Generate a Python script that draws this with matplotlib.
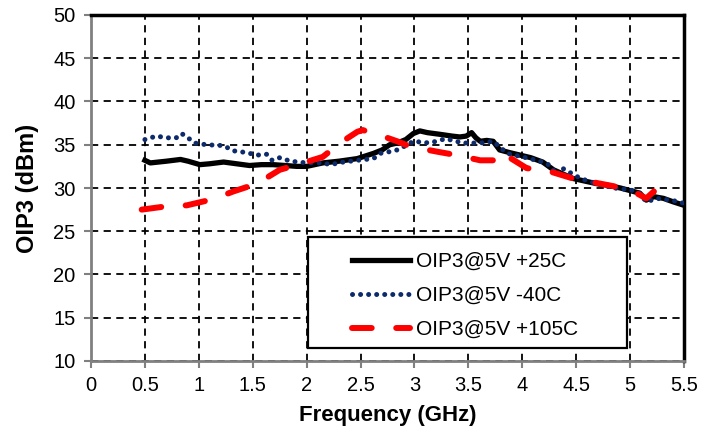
import matplotlib
matplotlib.use("Agg")
import matplotlib.pyplot as plt
from matplotlib.patches import Rectangle

# +25C (black solid)
freq_25 = [0.50, 0.55, 0.70, 0.83, 0.90, 1.01, 1.10, 1.23, 1.35, 1.47, 1.58, 1.69, 1.80, 1.91, 2.00,
           2.15, 2.30, 2.47, 2.62, 2.70, 2.77, 2.84, 2.92, 2.99, 3.05, 3.12, 3.24, 3.35, 3.42, 3.48,
           3.53, 3.57, 3.61, 3.67, 3.73, 3.79, 3.88, 3.98, 4.08, 4.19, 4.29, 4.38, 4.47, 4.58,
           4.69, 4.80, 4.91, 5.00, 5.09, 5.15, 5.22, 5.31, 5.40, 5.50]
oip3_25 = [33.2, 32.9, 33.1, 33.3, 33.1, 32.7, 32.8, 33.0, 32.8, 32.6, 32.7, 32.7, 32.6, 32.5, 32.5,
           32.9, 33.1, 33.4, 34.0, 34.4, 35.0, 35.2, 35.6, 36.3, 36.6, 36.4, 36.2, 36.0, 35.9, 36.0,
           36.4, 35.8, 35.4, 35.5, 35.4, 34.4, 34.1, 33.8, 33.5, 33.0, 32.1, 31.6, 31.1, 30.8,
           30.5, 30.3, 30.0, 29.7, 29.4, 28.6, 29.0, 28.8, 28.4, 28.0]

# -40C (blue dotted)
freq_m40 = [0.50, 0.55, 0.61, 0.70, 0.79, 0.84, 0.90, 0.96, 1.07, 1.23, 1.32, 1.44, 1.54, 1.63,
            1.68, 1.75, 1.85, 2.00, 2.15, 2.22, 2.34, 2.47, 2.62, 2.68, 2.77, 2.84, 2.92, 2.99,
            3.14, 3.29, 3.45, 3.61, 3.73, 3.86, 4.07, 4.19, 4.26, 4.32, 4.37, 4.54, 4.69, 4.85,
            5.00, 5.09, 5.15, 5.25, 5.37, 5.46, 5.50]
oip3_m40 = [35.6, 35.8, 36.0, 35.8, 35.8, 36.3, 35.8, 35.2, 35.0, 34.9, 34.3, 34.1, 33.8, 33.9,
            33.2, 33.5, 33.1, 32.9, 32.9, 32.7, 33.0, 33.2, 33.4, 34.0, 34.2, 34.4, 34.9, 35.4,
            35.2, 35.7, 35.2, 35.2, 35.4, 34.0, 33.4, 33.0, 32.6, 31.5, 32.3, 31.1, 30.5, 30.0,
            29.8, 29.4, 28.4, 28.8, 28.6, 28.4, 28.2]

# +105C (red dashed)
freq_105 = [0.47, 0.65, 0.89, 1.13, 1.32, 1.54, 1.75, 1.97, 2.15, 2.31, 2.47, 2.52, 2.68, 2.84,
            2.96, 3.21, 3.39, 3.61, 3.79, 3.82, 4.04, 4.26, 4.47, 4.60, 4.85, 5.03, 5.15, 5.22, 5.31]
oip3_105 = [27.5, 27.8, 28.0, 28.7, 29.6, 30.5, 32.1, 32.9, 33.6, 35.2, 36.5, 36.7, 36.1, 35.4,
            34.8, 34.2, 33.8, 33.2, 33.2, 34.0, 32.3, 31.9, 31.1, 30.8, 30.2, 29.6, 28.8, 29.6, 28.8]

labels = ["OIP3@5V +25C", "OIP3@5V -40C", "OIP3@5V +105C"]
x_ticks = [0, 0.5, 1, 1.5, 2, 2.5, 3, 3.5, 4, 4.5, 5, 5.5]
x_ticklabels = ["0", "0.5", "1", "1.5", "2", "2.5", "3", "3.5", "4", "4.5", "5", "5.5"]
y_ticks = [10, 15, 20, 25, 30, 35, 40, 45, 50]

plt.rcParams['font.family'] = ['Liberation Sans', 'DejaVu Sans']

W, H = 713, 436
fig = plt.figure(figsize=(W / 100, H / 100), dpi=100)
ax = fig.add_axes([91 / W, 1 - 361 / H, (684 - 91) / W, (361 - 15) / H])

ax.plot(freq_25, oip3_25, color='black', lw=3.8, solid_joinstyle='round', label=labels[0], zorder=3)
ax.plot(freq_m40, oip3_m40, color='#0d2a6b', lw=3.6, linestyle=(0, (0.01, 1.6)),
        dash_capstyle='round', label=labels[1], zorder=4)
ax.plot(freq_105, oip3_105, color='#ff0000', lw=4.3, linestyle=(0, (3.3, 4.1)),
        dash_capstyle='round', label=labels[2], zorder=5)

ax.set_xlim(0, 5.5)
ax.set_ylim(10, 50)
ax.set_xticks(x_ticks)
ax.set_xticklabels(x_ticklabels)
ax.set_yticks(y_ticks)
ax.tick_params(axis='both', labelsize=14.5, direction='out', length=5, width=1.5,
               color='#808080', pad=6)
ax.grid(True, color='black', linestyle=(0, (4, 3)), lw=1.3)
ax.set_axisbelow(True)

for s in ['left', 'bottom']:
    ax.spines[s].set_color('#808080')
    ax.spines[s].set_linewidth(2.0)
for s in ['top', 'right']:
    ax.spines[s].set_color('black')
    ax.spines[s].set_linewidth(2.5)

ax.set_xlabel("Frequency (GHz)", fontsize=16, fontweight='bold', labelpad=7)
ax.set_ylabel("OIP3 (dBm)", fontsize=17, fontweight='bold', labelpad=10)

# legend box
box = Rectangle((308 / W, 1 - 348 / H), (627 - 308) / W, (348 - 237) / H,
                transform=fig.transFigure, facecolor='white', edgecolor='black',
                lw=1.6, zorder=6)
fig.patches.append(box)

handles, lbls = ax.get_legend_handles_labels()
leg = fig.legend(handles, lbls, loc='upper left', bbox_to_anchor=(352 / W, 1 - 252 / H),
                 bbox_transform=fig.transFigure,
                 fontsize=15, frameon=False, handlelength=2.8,
                 borderpad=0, labelspacing=0.72, handletextpad=0.25, borderaxespad=0)
leg.set_zorder(7)

fig.savefig("out.png", dpi=100)
